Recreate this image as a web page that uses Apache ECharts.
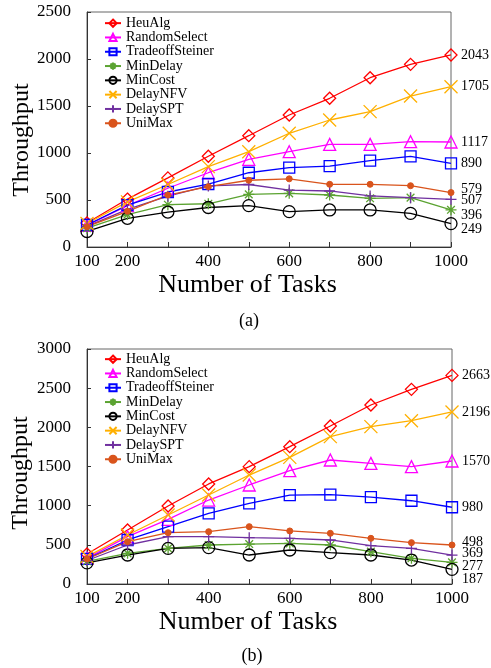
<!DOCTYPE html>
<html><head><meta charset="utf-8">
<script src="https://cdn.jsdelivr.net/npm/echarts@6/dist/echarts.min.js"></script>
<style>html,body{margin:0;padding:0;background:#fff}#c{width:491px;height:668px}</style>
</head><body><div id="c"></div>
<script>
// ---- data ----
const tasks = [100, 200, 300, 400, 500, 600, 700, 800, 900, 1000];
const xTickLabels = [100, 200, 400, 600, 800, 1000];
const seriesNames = ['HeuAlg', 'RandomSelect', 'TradeoffSteiner', 'MinDelay', 'MinCost', 'DelayNFV', 'DelaySPT', 'UniMax'];

// (a)
const heuA      = [255, 510, 735, 965, 1184, 1404, 1582, 1801, 1943, 2043];
const randA     = [230, 440, 625, 790, 933, 1014, 1092, 1092, 1120, 1117];
const tradeA    = [234, 445, 585, 670, 790, 845, 860, 918, 965, 890];
const minDelayA = [200, 345, 450, 460, 560, 571, 553, 518, 525, 396];
const minCostA  = [165, 305, 372, 420, 440, 376, 394, 394, 358, 249];
const nfvA      = [250, 480, 665, 855, 1014, 1210, 1351, 1440, 1606, 1705];
const sptA      = [220, 400, 540, 650, 665, 606, 596, 543, 525, 507];
const uniA      = [216, 380, 553, 642, 710, 725, 667, 667, 652, 579];

// (b)
const heuB      = [383, 689, 996, 1277, 1498, 1753, 2017, 2285, 2485, 2663];
const randB     = [330, 604, 826, 1072, 1264, 1447, 1583, 1540, 1498, 1570];
const tradeB    = [320, 562, 732, 902, 1030, 1135, 1140, 1110, 1063, 980];
const minDelayB = [290, 391, 455, 498, 510, 519, 498, 413, 328, 277];
const minCostB  = [270, 370, 455, 464, 370, 434, 400, 370, 306, 187];
const nfvB      = [350, 626, 881, 1136, 1391, 1617, 1881, 2009, 2085, 2196];
const sptB      = [300, 498, 604, 604, 591, 583, 562, 489, 455, 369];
const uniB      = [319, 540, 655, 668, 732, 677, 647, 583, 528, 498];

const dataA = [heuA, randA, tradeA, minDelayA, minCostA, nfvA, sptA, uniA];
const dataB = [heuB, randB, tradeB, minDelayB, minCostB, nfvB, sptB, uniB];

// ---- styles ----
const colors = ['#ff0000', '#ff00ff', '#0000ff', '#5ba331', '#000000', '#ffb000', '#7030a0', '#d9541c'];
const asterisk = 'path://M5,0L5,10M0,5L10,5M1.5,1.5L8.5,8.5M8.5,1.5L1.5,8.5';
const cross = 'path://M0,0L10,10M10,0L0,10';
const plus = 'path://M5,0L5,10M0,5L10,5';
const symbols = ['diamond', 'triangle', 'rect', asterisk, 'circle', cross, plus, 'circle'];
const sizes = [12, 12, 11, 11, 12, 13, 11, 6];
const labelDyA = [0, 0, 0, 6, 6, 0, 1, -3];
const labelDyB = [0, 0, 0, 4, 10, 0, -2, -3];
const FONT = 'Liberation Serif';

function buildSeries(arrs, gi, dys) {
  return arrs.map((vals, i) => {
    const filled = i === 7;
    return {
      name: seriesNames[i], type: 'line',
      xAxisIndex: gi, yAxisIndex: gi,
      data: tasks.map((t, k) => [t, vals[k]]),
      symbol: symbols[i], symbolSize: sizes[i],
      showAllSymbol: true,
      lineStyle: { color: colors[i], width: 1.3 },
      itemStyle: filled ? { color: colors[i], borderColor: colors[i], borderWidth: 1 }
                        : { color: 'none', borderColor: colors[i], borderWidth: 1.3 },
      emphasis: { disabled: true },
      endLabel: {
        show: true, color: '#000', fontFamily: FONT, fontSize: 14,
        distance: 10, offset: [0, dys[i]],
        formatter: p => String(p.value[1])
      }
    };
  });
}

function xAx(gi) {
  return {
    type: 'value', gridIndex: gi, min: 100, max: 1000, interval: 100,
    name: 'Number of Tasks', nameLocation: 'middle', nameGap: 25,
    nameTextStyle: { fontFamily: FONT, fontSize: 26, color: '#000', padding: [0, 43, 0, 0] },
    axisLine: { show: true, lineStyle: { color: '#333', width: 1 } },
    axisTick: { show: true, inside: true, length: 5, lineStyle: { color: '#333' } },
    axisLabel: { fontFamily: FONT, fontSize: 17, color: '#000', margin: 6,
      formatter: v => xTickLabels.includes(v) ? String(v) : '' },
    splitLine: { show: false }
  };
}
function yAx(gi, max) {
  return {
    type: 'value', gridIndex: gi, min: 0, max: max, interval: 500,
    axisLine: { show: true, lineStyle: { color: '#333', width: 1 } },
    axisTick: { show: true, inside: true, length: 4, lineStyle: { color: '#333' } },
    axisLabel: { fontFamily: FONT, fontSize: 17, color: '#000', margin: 16,
      formatter: v => String(v) },
    splitLine: { show: false }
  };
}
function legend(top) {
  return {
    orient: 'vertical', left: 99, top: top, data: seriesNames,
    itemWidth: 16, itemHeight: 9, itemGap: 0,
    textStyle: { fontFamily: FONT, fontSize: 14, color: '#000', lineHeight: 14.3 },
    selectedMode: false
  };
}
function yTitle(x, y) {
  return {
    type: 'text', x: x, y: y, rotation: Math.PI / 2, silent: true,
    style: { text: 'Throughput', fontFamily: FONT, fontSize: 24, fill: '#000',
      align: 'center', verticalAlign: 'middle' }
  };
}

const chart = echarts.init(document.getElementById('c'), null, { renderer: 'canvas' });
chart.setOption({
  animation: false,
  backgroundColor: '#fff',
  title: [
    { text: '(a)', left: 244, top: 307, textAlign: 'center',
      textStyle: { fontFamily: FONT, fontSize: 18, fontWeight: 'normal', color: '#000' } },
    { text: '(b)', left: 247, top: 642, textAlign: 'center',
      textStyle: { fontFamily: FONT, fontSize: 18, fontWeight: 'normal', color: '#000' } }
  ],
  graphic: [yTitle(22, 140), yTitle(21, 473)],
  grid: [
    { left: 87, top: 12, width: 364, height: 235, show: true, borderColor: '#666', borderWidth: 1,
      containLabel: false, outerBoundsMode: 'none' },
    { left: 87, top: 349, width: 365, height: 235, show: true, borderColor: '#666', borderWidth: 1,
      containLabel: false, outerBoundsMode: 'none' }
  ],
  legend: [legend(11), legend(347)],
  xAxis: [xAx(0), xAx(1)],
  yAxis: [yAx(0, 2500), yAx(1, 3000)],
  series: buildSeries(dataA, 0, labelDyA).concat(buildSeries(dataB, 1, labelDyB))
});
</script></body></html>
